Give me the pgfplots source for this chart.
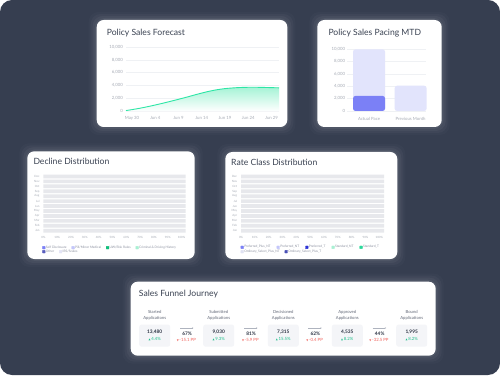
\documentclass[border=0pt]{standalone}
\usepackage{fontspec}
\setmainfont{Lato}
\newfontfamily\symfont{DejaVu Sans}
\usepackage{pgfplots}
\pgfplotsset{compat=1.18}
\usetikzlibrary{arrows.meta}

\definecolor{bgdark}{HTML}{363E50}
\definecolor{titletxt}{HTML}{3A4252}
\definecolor{ticktxt}{HTML}{A6ABB5}
\definecolor{gridc}{HTML}{EFF1F4}
\definecolor{tealline}{HTML}{2DE6A6}
\definecolor{tealfill}{HTML}{A6F3D6}
\definecolor{pacelight}{HTML}{E2E4FC}
\definecolor{pacedark}{HTML}{7B80F6}
\definecolor{rowgray}{HTML}{E7E8EC}
\definecolor{legtxt}{HTML}{8C91A0}
\definecolor{cA}{HTML}{7B80F6}
\definecolor{cB}{HTML}{C3C6FA}
\definecolor{cC}{HTML}{12BF7C}
\definecolor{cD}{HTML}{A9F0D3}
\definecolor{cE}{HTML}{5A5FBE}
\definecolor{cF}{HTML}{E3E4F5}
\definecolor{rC}{HTML}{2D33D6}
\definecolor{rE}{HTML}{2BD89A}
\definecolor{rF}{HTML}{E0E2F2}
\definecolor{rG}{HTML}{4A50B6}
\definecolor{upgreen}{HTML}{1DBE8A}
\definecolor{downred}{HTML}{F0625C}
\definecolor{boxgray}{HTML}{F4F5F8}
\definecolor{valtxt}{HTML}{2B3242}
\definecolor{stagetxt}{HTML}{626877}
\definecolor{arrowc}{HTML}{AEB3BE}

\newcommand\titlefont{\fontsize{8.6}{10}\selectfont}
\newcommand\tickfont{\fontsize{4.3}{5}\selectfont}
\newcommand\tinyfont{\fontsize{2.9}{3.4}\selectfont}
\newcommand\legfont{\fontsize{3.2}{3.6}\selectfont}
\newcommand\stagefont{\fontsize{4.2}{5.9}\selectfont}
\newcommand\valfont{\fontsize{4.8}{6}\selectfont\bfseries}
\newcommand\pctfont{\fontsize{4.3}{5}\selectfont}

\pgfplotsset{
  dash/.style={scale only axis, axis line style={draw=none}, major tick length=0pt,
    tick style={draw=none}, grid style={gridc, line width=0.45pt}, clip=false,
    scaled ticks=false},
  legrow/.style={hide axis, scale only axis, width=1pt, height=1pt,
    xmin=0, xmax=1, ymin=0, ymax=1, anchor=west,
    legend style={at={(0,0.5)}, anchor=west, draw=none, fill=none, inner sep=0pt,
      outer sep=0pt, font=\legfont, text=legtxt, nodes={inner sep=0.6pt},
      /tikz/every even column/.append style={column sep=4.3pt}},
    legend columns=-1,
    legend image code/.code={\fill[rounded corners=0.3pt] (0pt,-1.3pt) rectangle (2.6pt,1.3pt);}},
}

\pgfplotstableread{
day val
-1.3 120
0 260
2 520
4 820
6 1150
8 1500
10 1870
12 2250
14 2650
16 3020
18 3320
20 3530
22 3650
24 3720
26 3740
28 3720
30 3680
31.6 3650
}\forecast

\newcommand\card[4]{%
  \foreach \e/\o in {8/0.02,6/0.03,4/0.04,2/0.05}{%
    \fill[white, opacity=\o, rounded corners=10pt] ({#1-\e},{375-#4-\e}) rectangle ({#3+\e},{375-#2+\e});}
  \fill[white, rounded corners=7pt] (#1,{375-#4}) rectangle (#3,{375-#2});}

\newcommand\stage[5]{%
  \fill[boxgray, rounded corners=2.5pt] ({#1-15.5},{375-346.7}) rectangle ({#1+15.5},{375-324.5});
  \node[font=\stagefont, text=stagetxt, align=center, inner sep=0pt] at (#1,{375-315}) {#2\\#3};
  \node[font=\valfont, text=valtxt, inner sep=0pt] at (#1,{375-332.5}) {#4};
  \node[font=\pctfont, text=upgreen, inner sep=0pt] at (#1,{375-338.8}) {{\symfont\fontsize{2.6}{3}\selectfont ▲}\,#5};}

\newcommand\conv[3]{%
  \draw[arrowc, line width=0.25pt, -{Stealth[length=1.5pt,width=1.3pt]}] ({#1-7},{375-328}) -- ({#1+6.5},{375-328});
  \node[font=\valfont, text=valtxt, inner sep=0pt] at (#1,{375-334}) {#2};
  \node[font=\pctfont, text=downred, inner sep=0pt] at ({#1-0.7},{375-340.5}) {{\symfont\fontsize{2.6}{3}\selectfont ▼}\,#3 PP};}

\begin{document}
\begin{tikzpicture}[x=1pt,y=1pt]
\useasboundingbox (0,0) rectangle (500,375);
\fill[white] (0,0) rectangle (500,375);
\fill[bgdark, rounded corners=12pt] (0,0) rectangle (500,375);

\card{96.7}{20}{287.3}{127}
\card{317.3}{20}{441.7}{127}
\card{27.3}{151.3}{194.7}{259}
\card{225.3}{152}{397.3}{259}
\card{130.7}{281.7}{435.7}{355.7}

% titles
\node[anchor=base west, font=\titlefont, text=titletxt, inner sep=0pt] at (106.7,{375-35.3}) {Policy Sales Forecast};
\node[anchor=base west, font=\titlefont, text=titletxt, inner sep=0pt] at (328.3,{375-35.3}) {Policy Sales Pacing MTD};
\node[anchor=base west, font=\titlefont, text=titletxt, inner sep=0pt] at (33.3,{375-164.7}) {Decline Distribution};
\node[anchor=base west, font=\titlefont, text=titletxt, inner sep=0pt] at (231,{375-165.3}) {Rate Class Distribution};
\node[anchor=base west, font=\titlefont, text=titletxt, inner sep=0pt] at (138.7,{375-296.7}) {Sales Funnel Journey};

% ---------- Policy Sales Forecast ----------
\begin{axis}[dash, at={(126pt,263.7pt)}, anchor=south west, width=153pt, height=64.3pt,
  xmin=-1.3, xmax=31.6, ymin=0, ymax=10000,
  ymajorgrids, ytick={0,2000,4000,6000,8000,10000},
  yticklabels={0,{2,000},{4,000},{6,000},{8,000},{10,000}},
  xtick={0,5,10,15,20,25,30},
  xticklabels={May 30,Jun 4,Jun 9,Jun 14,Jun 19,Jun 24,Jun 29},
  yticklabel style={font=\tickfont, text=ticktxt, anchor=east, inner sep=0pt, xshift=-3pt},
  xticklabel style={font=\tickfont, text=ticktxt, anchor=north, inner sep=0pt, yshift=-5pt}]
\addplot[draw=none, top color=tealfill, bottom color=white, smooth] table[x=day,y=val] {\forecast} \closedcycle;
\addplot[tealline, line width=0.9pt, smooth] table[x=day,y=val] {\forecast};
\end{axis}

% ---------- Policy Sales Pacing MTD ----------
\begin{axis}[dash, at={(347pt,264pt)}, anchor=south west, width=79pt, height=61.7pt,
  xmin=-0.53, xmax=1.37, ymin=0, ymax=10000,
  ymajorgrids, ytick={0,2000,4000,6000,8000,10000},
  yticklabels={0,{2,000},{4,000},{6,000},{8,000},{10,000}},
  xtick={0,1}, xticklabels={Actual Pace,Previous Month},
  yticklabel style={font=\tickfont, text=ticktxt, anchor=east, inner sep=0pt, xshift=-1.8pt},
  xticklabel style={font=\tickfont, text=ticktxt, anchor=north, inner sep=0pt, yshift=-6.3pt}]
\addplot[ybar, bar width=32pt, bar shift=0pt, fill=pacelight, draw=none, rounded corners=2.5pt] coordinates {(0,10000) (1,4100)};
\addplot[ybar, bar width=32pt, bar shift=0pt, fill=pacedark, draw=none, rounded corners=2.5pt] coordinates {(0,2450)};
\end{axis}

% ---------- Decline Distribution ----------
\begin{axis}[dash, at={(41.7pt,141.8pt)}, anchor=south west, width=144pt, height=59.2pt,
  xmin=-1.2, xmax=103, ymin=0.5, ymax=12.5,
  ytick={1,...,12}, yticklabels={Jan,Feb,Mar,Apr,May,Jun,Jul,Aug,Sep,Oct,Nov,Dec},
  xtick={0,10,...,100}, xticklabels={0\%,10\%,20\%,30\%,40\%,50\%,60\%,70\%,80\%,90\%,100\%},
  yticklabel style={font=\tinyfont, text=ticktxt, anchor=east, inner sep=0pt, xshift=-2pt},
  xticklabel style={font=\tinyfont, text=ticktxt, anchor=north, inner sep=0pt, yshift=-3.2pt}]
\addplot[xbar, bar width=3.7pt, fill=rowgray, draw=none] coordinates
  {(103,1) (103,2) (103,3) (103,4) (103,5) (103,6) (103,7) (103,8) (103,9) (103,10) (103,11) (103,12)};
\end{axis}
\begin{axis}[legrow, at={(42.3pt,127.3pt)}]
\addlegendimage{cA}\addlegendentry{Self Disclosure}
\addlegendimage{cB}\addlegendentry{Pill/Minor Medical}
\addlegendimage{cC}\addlegendentry{UW/Risk Rules}
\addlegendimage{cD}\addlegendentry{Criminal \& Driving History}
\end{axis}
\begin{axis}[legrow, at={(42.3pt,123.3pt)}]
\addlegendimage{cE}\addlegendentry{Other}
\addlegendimage{cF}\addlegendentry{IRS/Scales}
\end{axis}

% ---------- Rate Class Distribution ----------
\begin{axis}[dash, at={(239.3pt,141.8pt)}, anchor=south west, width=144.7pt, height=59.2pt,
  xmin=-1.23, xmax=103.4, ymin=0.5, ymax=12.5,
  ytick={1,...,12}, yticklabels={Jan,Feb,Mar,Apr,May,Jun,Jul,Aug,Sep,Oct,Nov,Dec},
  xtick={0,10,...,100}, xticklabels={0\%,10\%,20\%,30\%,40\%,50\%,60\%,70\%,80\%,90\%,100\%},
  yticklabel style={font=\tinyfont, text=ticktxt, anchor=east, inner sep=0pt, xshift=-2pt},
  xticklabel style={font=\tinyfont, text=ticktxt, anchor=north, inner sep=0pt, yshift=-3.2pt}]
\addplot[xbar, bar width=3.7pt, fill=rowgray, draw=none] coordinates
  {(103.4,1) (103.4,2) (103.4,3) (103.4,4) (103.4,5) (103.4,6) (103.4,7) (103.4,8) (103.4,9) (103.4,10) (103.4,11) (103.4,12)};
\end{axis}
\begin{axis}[legrow, at={(240.7pt,127.7pt)}, legend style={/tikz/every even column/.append style={column sep=5.5pt}}]
\addlegendimage{cA}\addlegendentry{Preferred\_Plus\_NT}
\addlegendimage{cB}\addlegendentry{Preferred\_NT}
\addlegendimage{rC}\addlegendentry{Preferred\_T}
\addlegendimage{cD}\addlegendentry{Standard\_NT}
\addlegendimage{rE}\addlegendentry{Standard\_T}
\end{axis}
\begin{axis}[legrow, at={(240.7pt,123.3pt)}]
\addlegendimage{rF}\addlegendentry{Ordinary\_Select\_Plus\_NT}
\addlegendimage{rG}\addlegendentry{Ordinary\_Select\_Plus\_T}
\end{axis}

% ---------- Sales Funnel Journey ----------
\stage{154.7}{Started}{Applications}{13,480}{4.4\%}
\stage{218.7}{Submitted}{Applications}{9,030}{9.3\%}
\stage{283.3}{Decisioned}{Applications}{7,315}{15.5\%}
\stage{347.3}{Approved}{Applications}{4,535}{8.2\%}
\stage{411.7}{Bound}{Applications}{1,995}{8.2\%}
\conv{187}{67\%}{-15.1}
\conv{251}{81\%}{-5.9}
\conv{315.3}{62\%}{-0.4}
\conv{379.7}{44\%}{-32.5}
\end{tikzpicture}
\end{document}
